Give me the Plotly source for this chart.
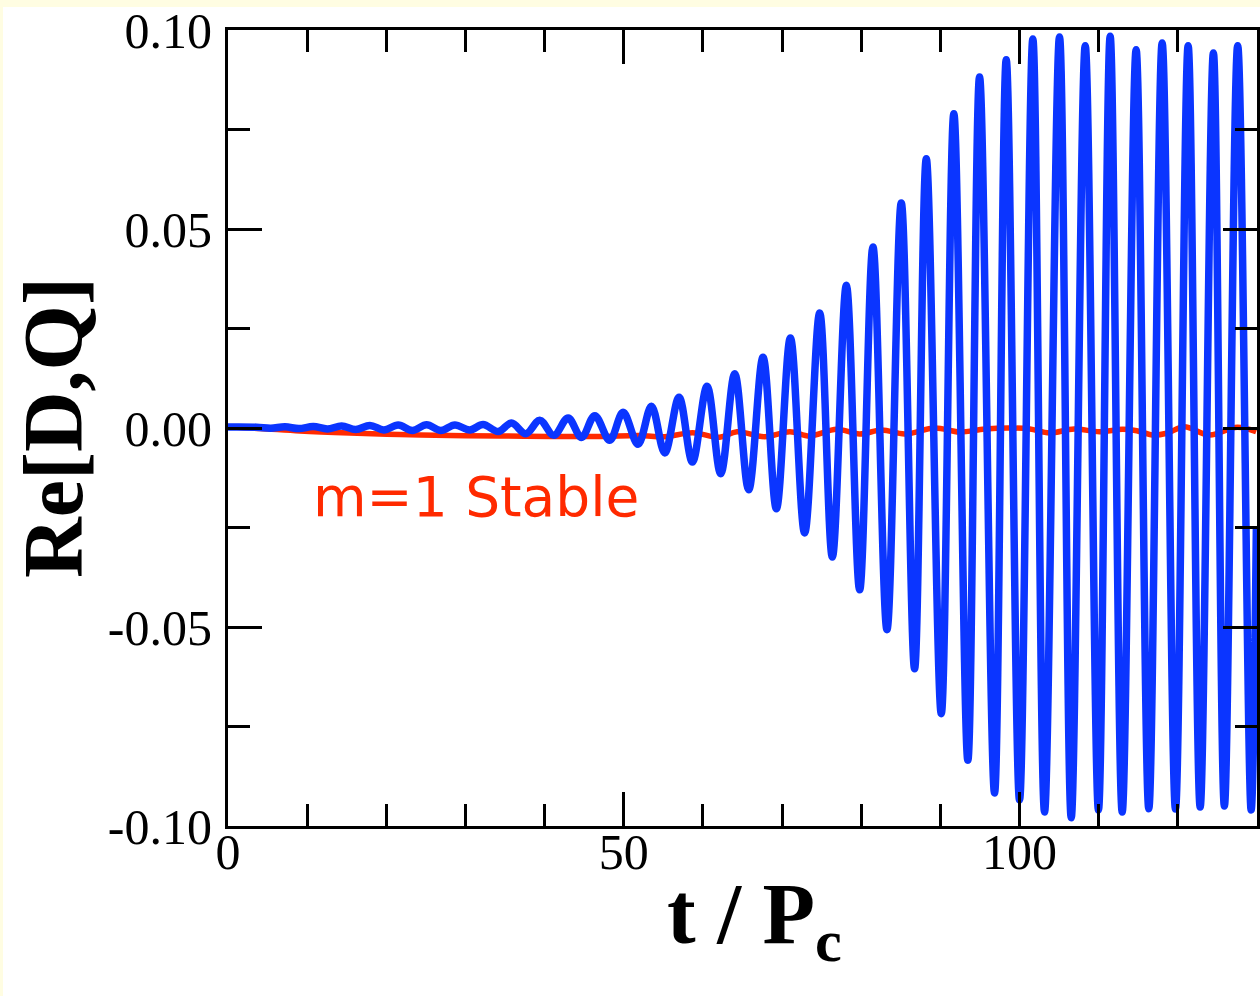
import plotly.graph_objects as go

# ---- data (t / Pc, Re[D,Q]) ----
blue_t = [0.0,
          3.62, 5.40, 7.20, 8.96, 10.77, 12.56, 14.36, 16.14, 17.93, 19.70,
          21.50, 23.30, 25.09, 26.89, 28.66, 30.56, 32.23, 34.13, 35.82, 37.63,
          39.39, 41.16, 42.97, 44.66, 46.34, 48.23, 49.91, 51.80, 53.50, 55.18,
          56.98, 58.67, 60.52, 62.25, 64.02, 65.78, 67.59, 69.28, 71.05, 72.85,
          74.75, 76.35, 78.12, 79.80, 81.48, 83.25, 85.06, 86.74, 88.22, 90.11,
          91.70, 93.47, 94.95, 96.84, 98.32, 100.0, 101.68, 103.16, 105.05, 106.53,
          108.30, 109.97, 111.45, 112.97, 114.73, 116.33, 118.02, 119.70, 121.30, 122.82,
          124.49, 125.88, 127.56, 129.26, 129.92]
blue_v = [0.00025,
          0.0002, -0.00005, 0.0003, -0.00015, 0.00038, -0.00025, 0.0005, -0.00038, 0.00063, -0.0005,
          0.00075, -0.00063, 0.00083, -0.00063, 0.00075, -0.0005, 0.00088, -0.00088, 0.00126, -0.00143,
          0.00193, -0.00183, 0.00251, -0.00239, 0.00309, -0.00309, 0.00394, -0.0041, 0.00545, -0.00628,
          0.00771, -0.00854, 0.01048, -0.01148, 0.01364, -0.0155, 0.01776, -0.02028, 0.02261, -0.02638,
          0.02889, -0.03241, 0.03585, -0.04063, 0.04548, -0.05068, 0.05653, -0.06048, 0.06766, -0.07178,
          0.07897, -0.08349, 0.08819, -0.09171, 0.09254, -0.09347, 0.09774, -0.09648, 0.09824, -0.09791,
          0.09606, -0.09598, 0.09842, -0.09648, 0.09505, -0.09565, 0.09673, -0.09573, 0.09606, -0.09523,
          0.09422, -0.09497, 0.09606, -0.09598, -0.025]

red_t = [0.0, 4.04, 9.09, 15.4, 21.7, 28.0, 34.3, 40.7, 47.0, 52.0,
         55.2, 58.7, 62.1, 64.3, 67.8, 71.0, 73.5, 76.9, 79.8, 82.6,
         85.5, 89.3, 92.4, 95.6, 98.7, 101.3, 103.8, 106.9, 110.1, 113.0,
         114.8, 116.8, 118.6, 120.8, 124.0, 127.5, 129.9]
red_v = [0.00025, -0.00013, -0.00075, -0.00126, -0.00163, -0.00188, -0.00201, -0.00214, -0.00214, -0.00188,
         -0.00219, -0.00118, -0.00234, -0.00093, -0.00219, -0.00093, -0.00201, -0.00033, -0.00151, -0.0005,
         -0.00151, 0.0, -0.001, -0.00025, 0.0, -0.00025, -0.00126, -0.00025, -0.00093, -0.00033,
         -0.00068, -0.00176, -0.00133, 0.00033, -0.00176, 0.00018, -0.00093]

y_tickvals = [0.10, 0.05, 0.0, -0.05, -0.10]
y_ticktext = ["0.10", "0.05", "0.00", "-0.05", "-0.10"]
x_tickvals = [0, 50, 100]
x_ticktext = ["0", "50", "100"]

BLUE = "#0b35ff"
RED = "#ff2a00"
SERIF = "Liberation Serif"

fig = go.Figure()
fig.add_trace(go.Scatter(x=red_t, y=red_v, mode="lines",
                         line=dict(color=RED, width=5.5, shape="spline", smoothing=1.0),
                         hoverinfo="skip", showlegend=False))
fig.add_trace(go.Scatter(x=blue_t, y=blue_v, mode="lines",
                         line=dict(color=BLUE, width=7.5, shape="spline", smoothing=1.0),
                         hoverinfo="skip", showlegend=False))

axis_common = dict(showline=True, linecolor="black", linewidth=3, mirror="ticks",
                   ticks="inside", ticklen=34, tickwidth=3, tickcolor="black",
                   showgrid=False, zeroline=False, automargin=False,
                   tickfont=dict(family=SERIF, size=50, color="black"))

fig.update_xaxes(range=[0, 130], tickvals=x_tickvals, ticktext=x_ticktext,
                 minor=dict(dtick=10, tick0=0, ticks="inside", ticklen=22, tickwidth=3,
                            tickcolor="black", showgrid=False),
                 ticklabelstandoff=-20, **axis_common)
fig.update_yaxes(range=[-0.10, 0.10], tickvals=y_tickvals, ticktext=y_ticktext,
                 minor=dict(dtick=0.025, tick0=0, ticks="inside", ticklen=22, tickwidth=3,
                            tickcolor="black", showgrid=False),
                 ticklabelstandoff=3, **axis_common)

fig.update_layout(
    width=1260, height=996,
    margin=dict(l=228, r=3, t=30, b=170, autoexpand=False),
    paper_bgcolor="white", plot_bgcolor="white",
    shapes=[
        dict(type="rect", xref="paper", yref="paper",
             x0=-228 / 1029, x1=1 + 3 / 1029, y0=1 + 23 / 796, y1=1 + 30 / 796,
             fillcolor="#fffde2", line=dict(width=0), layer="below"),
        dict(type="rect", xref="paper", yref="paper",
             x0=-228 / 1029, x1=-225 / 1029, y0=-170 / 796, y1=1 + 30 / 796,
             fillcolor="#fffde2", line=dict(width=0), layer="below"),
    ],
    annotations=[
        dict(text="Re[D,Q]", xref="paper", yref="paper", x=-175 / 1029, y=0.5,
             xanchor="center", yanchor="middle", textangle=-90, showarrow=False,
             font=dict(family=SERIF, size=84, color="black", weight="bold")),
        dict(text="t / P<sub>c</sub>", xref="paper", yref="paper", x=(754 - 228) / 1029,
             y=-0.118, xanchor="center", yanchor="middle", showarrow=False,
             font=dict(family=SERIF, size=86, color="black", weight="bold")),
        dict(text="m=1 Stable", xref="x", yref="y", x=31.3, y=-0.0173,
             xanchor="center", yanchor="middle", showarrow=False,
             font=dict(family="DejaVu Sans", size=55, color=RED)),
    ],
)

fig.write_html("out.html", config={"displayModeBar": False},
               post_script="document.body.style.margin='0';document.body.style.overflow='hidden';")
